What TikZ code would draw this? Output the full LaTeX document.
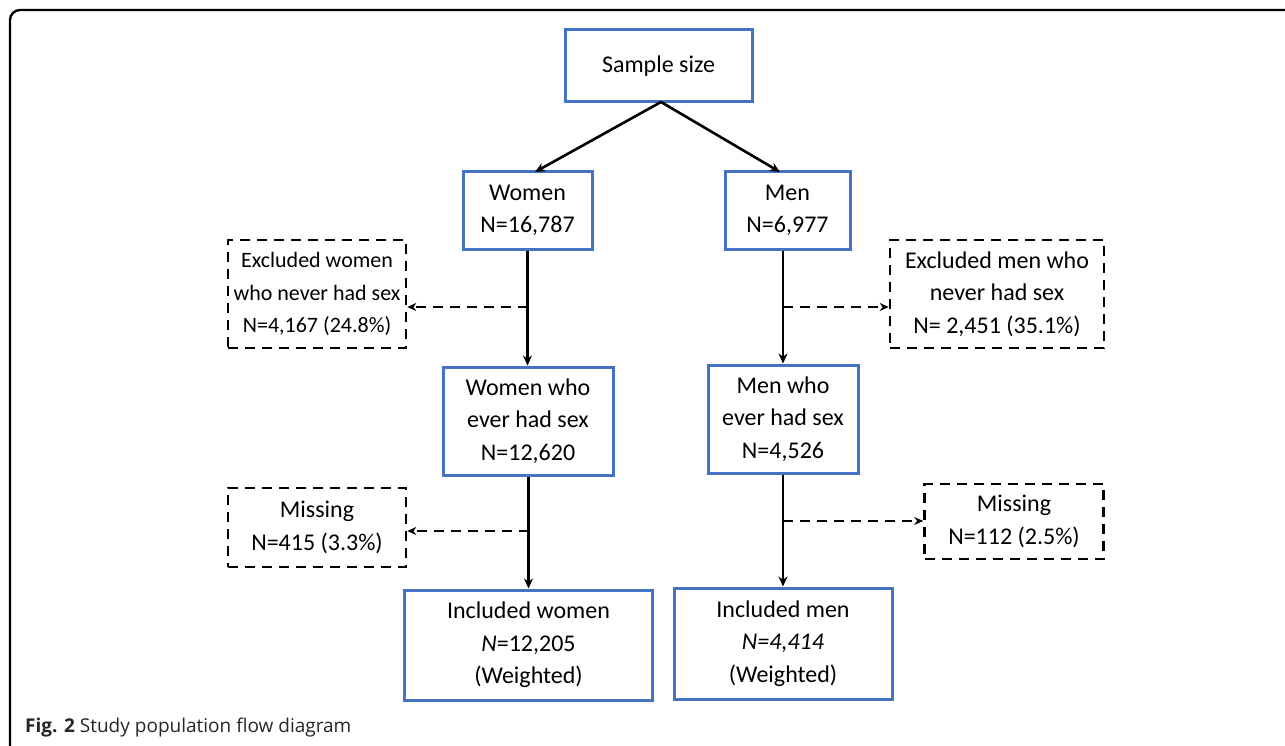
\documentclass[tikz,border=0pt]{standalone}
\usepackage{fontspec}
\setmainfont{Carlito}
\newfontfamily\capfont{Open Sans}
\usetikzlibrary{arrows.meta}
\definecolor{boxblue}{RGB}{68,114,196}
\tikzset{
  bluebox/.style={draw=boxblue, line width=3pt, inner sep=0pt, align=center,
    font=\fontsize{24}{32.5}\selectfont},
  dashbox/.style={draw=black, line width=2.6pt, dash pattern=on 10pt off 7pt, inner sep=0pt, align=center,
    font=\fontsize{24}{32.5}\selectfont},
  arr/.style={draw=black, line width=2.6pt, -{Stealth[length=10pt,width=9pt]}},
  darr/.style={draw=black, line width=2.6pt, dash pattern=on 10pt off 7pt, -{Stealth[length=9pt,width=8pt]}},
}
\begin{document}
\begin{tikzpicture}[x=1pt,y=-1pt]
\useasboundingbox (0,0) rectangle (1285,746);
\fill[white] (0,0) rectangle (1285,746);
% outer frame
\draw[line width=2.4pt, rounded corners=10pt] (1300,10) -- (10,10) -- (10,760);
% nodes
\node[bluebox, minimum width=187pt, minimum height=72pt] (sample) at (658.5,66) {Sample size};
\node[bluebox, minimum width=129pt, minimum height=77pt] (women) at (527.5,210.5) {Women\\N=16,787};
\node[bluebox, minimum width=125pt, minimum height=77pt] (men) at (787.5,210.5) {Men\\N=6,977};
\node[dashbox, minimum width=178pt, minimum height=108pt, font=\fontsize{22}{32.5}\selectfont] (exw) at (317,294) {Excluded women\\who never had sex\\N=4,167 (24.8\%)};
\node[dashbox, minimum width=214pt, minimum height=108pt] (exm) at (997,294) {Excluded men who\\never had sex\\N= 2,451 (35.1\%)};
\node[bluebox, minimum width=170pt, minimum height=108pt] (wever) at (528,421) {Women who\\ever had sex\\N=12,620};
\node[bluebox, minimum width=150pt, minimum height=108pt] (mever) at (783,419) {Men who\\ever had sex\\N=4,526};
\node[dashbox, minimum width=178pt, minimum height=79pt] (missw) at (317,527.5) {Missing\\N=415 (3.3\%)};
\node[dashbox, minimum width=179pt, minimum height=75pt] (missm) at (1014,521.5) {Missing\\N=112 (2.5\%)};
\node[bluebox, minimum width=248pt, minimum height=110pt] (inclw) at (528.5,645) {Included women\\\textit{N}=12,205\\(Weighted)};
\node[bluebox, minimum width=218pt, minimum height=111pt] (inclm) at (783,643.5) {Included men\\\textit{N=4,414}\\(Weighted)};
% junction points
\coordinate (sb) at (661,102);
\coordinate (wt) at (535,172);
\coordinate (mt) at (780,172);
\coordinate (jw1) at (527.5,307);
\coordinate (jm1) at (783,307);
\coordinate (jw2) at (528.5,531);
\coordinate (jm2) at (783,521);
% connectors
\draw[arr] (sb) -- (wt);
\draw[arr] (sb) -- (mt);
\draw[arr] (women.south) -- (women.south |- wever.north);
\draw[arr] (men.south -| jm1) -- (mever.north -| jm1);
\draw[arr] (wever.south -| jw2) -- (inclw.north);
\draw[arr] (mever.south -| jm2) -- (inclm.north);
\draw[darr] (jw1) -- (jw1 -| exw.east);
\draw[darr] (jm1) -- (jm1 -| exm.west);
\draw[darr] (jw2) -- (jw2 -| missw.east);
\draw[darr] (jm2) -- (jm2 -| missm.west);
% caption
\node[anchor=base west, inner sep=0pt, font=\capfont\fontsize{19}{22}\selectfont, text=black!85] (cap) at (25,732) {\textbf{Fig. 2} Study population flow diagram};
\end{tikzpicture}
\end{document}
